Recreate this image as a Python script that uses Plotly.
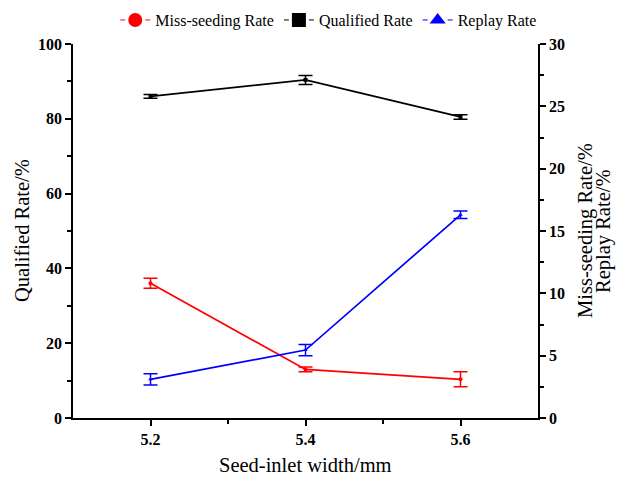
import plotly.graph_objects as go

x_width = [5.2, 5.4, 5.6]
qualified = [86.0, 90.4, 80.5]
qualified_err = [0.5, 1.2, 0.6]
miss_seeding = [10.8, 3.9, 3.1]
miss_err = [0.4, 0.2, 0.6]
replay = [3.1, 5.45, 16.3]
replay_err = [0.45, 0.45, 0.3]

FONT = "Liberation Serif"
fig = go.Figure()

def add(name, y, err, color, symbol, axis):
    fig.add_trace(go.Scatter(
        x=x_width, y=y, mode="lines+markers", name=name, showlegend=False,
        line=dict(color=color, width=1.7),
        marker=dict(color=color, symbol=symbol, size=4),
        error_y=dict(type="data", array=err, visible=True, color=color, thickness=1.5, width=7),
        yaxis=axis, cliponaxis=False))
    fig.add_trace(go.Scatter(
        x=[None], y=[None], mode="lines+markers", name=name,
        line=dict(color=color, width=1, dash="5px,20px,5px"),
        marker=dict(color=color, symbol=symbol, size=14),
        yaxis=axis))

add("Miss-seeding Rate", miss_seeding, miss_err, "#ff0000", "circle", "y2")
add("Qualified Rate", qualified, qualified_err, "#000000", "square", "y")
add("Replay Rate", replay, replay_err, "#0000ff", "triangle-up", "y2")

tickfont = dict(family=FONT, size=16, color="black", weight="bold")
common = dict(showgrid=False, zeroline=False, showline=True, linecolor="black", linewidth=1.5,
              ticks="outside", ticklen=6, tickwidth=1.5, tickcolor="black", tickfont=tickfont,
              automargin=False)
minor = dict(ticks="outside", ticklen=4, tickwidth=1.5, tickcolor="black")

title_font = dict(family=FONT, size=20.5, color="black")

fig.update_layout(
    width=619, height=479,
    margin=dict(l=73, r=81, t=44, b=61, autoexpand=False),
    plot_bgcolor="white", paper_bgcolor="white",
    font=dict(family=FONT, color="black"),
    legend=dict(orientation="h", x=0.55, xanchor="center", y=1.064, yanchor="middle",
                font=dict(family=FONT, size=16, color="black"), itemwidth=30,
                bgcolor="rgba(0,0,0,0)"),
    xaxis=dict(range=[5.1, 5.7], tickvals=[5.2, 5.4, 5.6], ticktext=["5.2", "5.4", "5.6"],
               minor=dict(tickvals=[5.3, 5.5], **minor), **common),
    yaxis=dict(range=[0, 100], tickvals=[0, 20, 40, 60, 80, 100],
               minor=dict(tickvals=[10, 30, 50, 70, 90], **minor), **common),
    yaxis2=dict(range=[0, 30], tickvals=[0, 5, 10, 15, 20, 25, 30], overlaying="y", side="right",
                minor=dict(tickvals=[2.5, 7.5, 12.5, 17.5, 22.5, 27.5], **minor), **common),
    annotations=[
        dict(text="Seed-inlet width/mm", xref="paper", yref="paper", x=0.5, y=0, yshift=-47,
             xanchor="center", yanchor="middle", showarrow=False, font=title_font),
        dict(text="Qualified Rate/%", xref="paper", yref="paper", x=0, y=0.5, xshift=-51,
             xanchor="center", yanchor="middle", textangle=-90, showarrow=False, font=title_font),
        dict(text="Miss-seeding Rate/%", xref="paper", yref="paper", x=1, y=0.5, xshift=47,
             xanchor="center", yanchor="middle", textangle=-90, showarrow=False, font=title_font),
        dict(text="Replay Rate/%", xref="paper", yref="paper", x=1, y=0.5, xshift=65,
             xanchor="center", yanchor="middle", textangle=-90, showarrow=False, font=title_font),
    ],
)

fig.write_html("out.html", config={"displayModeBar": False},
               post_script="document.body.style.margin='0';document.body.style.padding='0';")
